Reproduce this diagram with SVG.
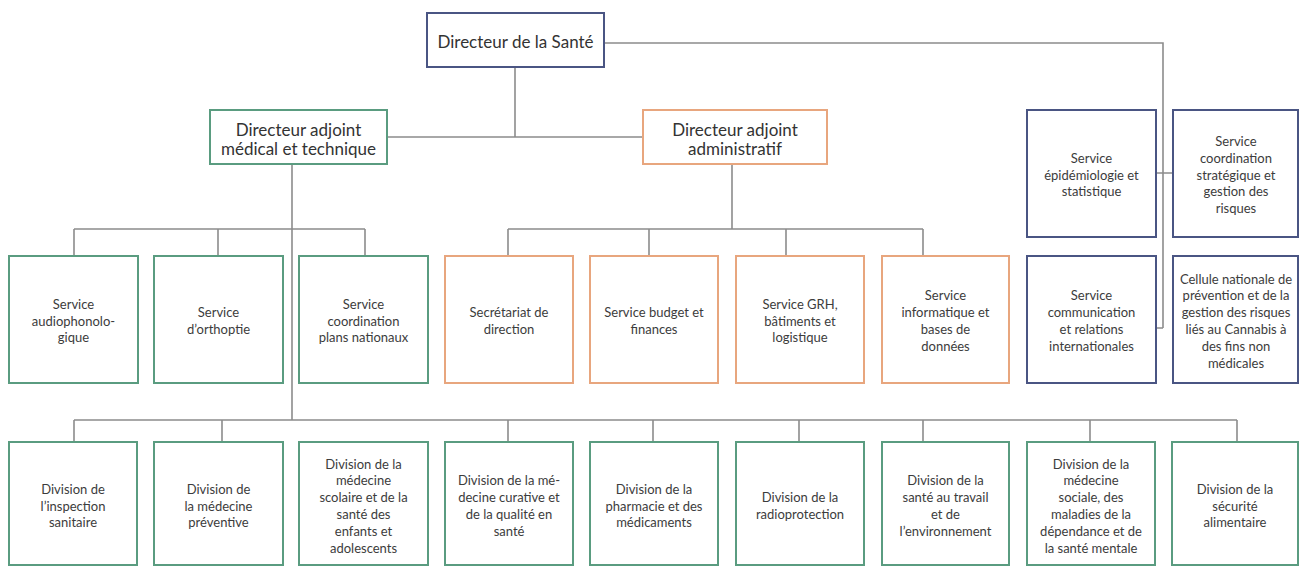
<svg xmlns="http://www.w3.org/2000/svg" width="1299" height="567" viewBox="0 0 1299 567">
<style>
.bg{fill:#ffffff}
.box{fill:#ffffff;stroke-width:2}
.g{stroke:#5a9c80}
.o{stroke:#e8a67e}
.b{stroke:#4a5583}
.t{font-family:Lato,"Liberation Sans",sans-serif;font-size:13px;fill:#3c3c3c;text-anchor:middle}
.h{font-family:Lato,"Liberation Sans",sans-serif;font-size:17px;fill:#333333;text-anchor:middle}
.c{fill:none;stroke:#8c8c8c;stroke-width:1.6}
</style>
<rect class="bg" x="0" y="0" width="1299" height="567"/>
<g id="connectors">
<path class="c" d="M604 43H1163V328M1156 173H1173M1156 328H1163"/>
<path class="c" d="M515 67V137M387 137H643"/>
<path class="c" d="M292 164V420M74 229H365M74 229V256M218 229V256M365 229V256"/>
<path class="c" d="M732 164V229M508 229H923M508 229V256M649 229V256M786 229V256M923 229V256"/>
<path class="c" d="M74 420H1237M74 420V442M222 420V442M508 420V442M653 420V442M799 420V442M923 420V442M1090 420V442M1237 420V442"/>
</g>
<g id="directeur"><rect class="box b" x="427" y="13" width="177" height="54"/><text class="h" x="515.5" y="47.5">Directeur de la Santé</text></g>
<g id="da-medical"><rect class="box g" x="210" y="110" width="177" height="54"/><text class="h" x="298.5" y="136">Directeur adjoint<tspan x="298.5" dy="18.5">médical et technique</tspan></text></g>
<g id="da-admin"><rect class="box o" x="643" y="110" width="184" height="54"/><text class="h" x="735" y="136">Directeur adjoint<tspan x="735" dy="18.5">administratif</tspan></text></g>

<g id="s-audio"><rect class="box g" x="9" y="256" width="129" height="127"/><text class="t" x="73.5" y="308.7">Service<tspan x="73.5" dy="16.8">audiophonolo-</tspan><tspan x="73.5" dy="16.8">gique</tspan></text></g>
<g id="s-ortho"><rect class="box g" x="154" y="256" width="129" height="127"/><text class="t" x="218.5" y="317.1">Service<tspan x="218.5" dy="16.8">d’orthoptie</tspan></text></g>
<g id="s-plans"><rect class="box g" x="299" y="256" width="129" height="127"/><text class="t" x="363.5" y="308.7">Service<tspan x="363.5" dy="16.8">coordination</tspan><tspan x="363.5" dy="16.8">plans nationaux</tspan></text></g>
<g id="s-secr"><rect class="box o" x="445" y="256" width="128" height="127"/><text class="t" x="509" y="317.1">Secrétariat de<tspan x="509" dy="16.8">direction</tspan></text></g>
<g id="s-budget"><rect class="box o" x="590" y="256" width="128" height="127"/><text class="t" x="654" y="317.1">Service budget et<tspan x="654" dy="16.8">finances</tspan></text></g>
<g id="s-grh"><rect class="box o" x="736" y="256" width="128" height="127"/><text class="t" x="800" y="308.7">Service GRH,<tspan x="800" dy="16.8">bâtiments et</tspan><tspan x="800" dy="16.8">logistique</tspan></text></g>
<g id="s-info"><rect class="box o" x="882" y="256" width="127" height="127"/><text class="t" x="945.5" y="300.3">Service<tspan x="945.5" dy="16.8">informatique et</tspan><tspan x="945.5" dy="16.8">bases de</tspan><tspan x="945.5" dy="16.8">données</tspan></text></g>

<g id="s-epid"><rect class="box b" x="1027" y="110" width="129" height="127"/><text class="t" x="1091.5" y="162.7">Service<tspan x="1091.5" dy="16.8">épidémiologie et</tspan><tspan x="1091.5" dy="16.8">statistique</tspan></text></g>
<g id="s-strat"><rect class="box b" x="1173" y="110" width="125" height="127"/><text class="t" x="1236" y="145.9">Service<tspan x="1236" dy="16.8">coordination</tspan><tspan x="1236" dy="16.8">stratégique et</tspan><tspan x="1236" dy="16.8">gestion des</tspan><tspan x="1236" dy="16.8">risques</tspan></text></g>
<g id="s-comm"><rect class="box b" x="1027" y="256" width="129" height="127"/><text class="t" x="1091.5" y="300.3">Service<tspan x="1091.5" dy="16.8">communication</tspan><tspan x="1091.5" dy="16.8">et relations</tspan><tspan x="1091.5" dy="16.8">internationales</tspan></text></g>
<g id="cellule"><rect class="box b" x="1173" y="256" width="125" height="127"/><text class="t" x="1236" y="283.5">Cellule nationale de<tspan x="1236" dy="16.8">prévention et de la</tspan><tspan x="1236" dy="16.8">gestion des risques</tspan><tspan x="1236" dy="16.8">liés au Cannabis à</tspan><tspan x="1236" dy="16.8">des fins non</tspan><tspan x="1236" dy="16.8">médicales</tspan></text></g>

<g id="d-inspection"><rect class="box g" x="9" y="442" width="128" height="123"/><text class="t" x="73" y="493.7">Division de<tspan x="73" dy="16.8">l’inspection</tspan><tspan x="73" dy="16.8">sanitaire</tspan></text></g>
<g id="d-preventive"><rect class="box g" x="154" y="442" width="129" height="123"/><text class="t" x="218.5" y="493.7">Division de<tspan x="218.5" dy="16.8">la médecine</tspan><tspan x="218.5" dy="16.8">préventive</tspan></text></g>
<g id="d-scolaire"><rect class="box g" x="299" y="442" width="129" height="123"/><text class="t" x="363.5" y="468.5">Division de la<tspan x="363.5" dy="16.8">médecine</tspan><tspan x="363.5" dy="16.8">scolaire et de la</tspan><tspan x="363.5" dy="16.8">santé des</tspan><tspan x="363.5" dy="16.8">enfants et</tspan><tspan x="363.5" dy="16.8">adolescents</tspan></text></g>
<g id="d-curative"><rect class="box g" x="445" y="442" width="128" height="123"/><text class="t" x="509" y="485.3">Division de la mé-<tspan x="509" dy="16.8">decine curative et</tspan><tspan x="509" dy="16.8">de la qualité en</tspan><tspan x="509" dy="16.8">santé</tspan></text></g>
<g id="d-pharmacie"><rect class="box g" x="590" y="442" width="128" height="123"/><text class="t" x="654" y="493.7">Division de la<tspan x="654" dy="16.8">pharmacie et des</tspan><tspan x="654" dy="16.8">médicaments</tspan></text></g>
<g id="d-radio"><rect class="box g" x="736" y="442" width="128" height="123"/><text class="t" x="800" y="502.1">Division de la<tspan x="800" dy="16.8">radioprotection</tspan></text></g>
<g id="d-travail"><rect class="box g" x="882" y="442" width="127" height="123"/><text class="t" x="945.5" y="485.3">Division de la<tspan x="945.5" dy="16.8">santé au travail</tspan><tspan x="945.5" dy="16.8">et de</tspan><tspan x="945.5" dy="16.8">l’environnement</tspan></text></g>
<g id="d-sociale"><rect class="box g" x="1027" y="442" width="128" height="123"/><text class="t" x="1091" y="468.5">Division de la<tspan x="1091" dy="16.8">médecine</tspan><tspan x="1091" dy="16.8">sociale, des</tspan><tspan x="1091" dy="16.8">maladies de la</tspan><tspan x="1091" dy="16.8">dépendance et de</tspan><tspan x="1091" dy="16.8">la santé mentale</tspan></text></g>
<g id="d-alimentaire"><rect class="box g" x="1172" y="442" width="126" height="123"/><text class="t" x="1235" y="493.7">Division de la<tspan x="1235" dy="16.8">sécurité</tspan><tspan x="1235" dy="16.8">alimentaire</tspan></text></g>
</svg>
